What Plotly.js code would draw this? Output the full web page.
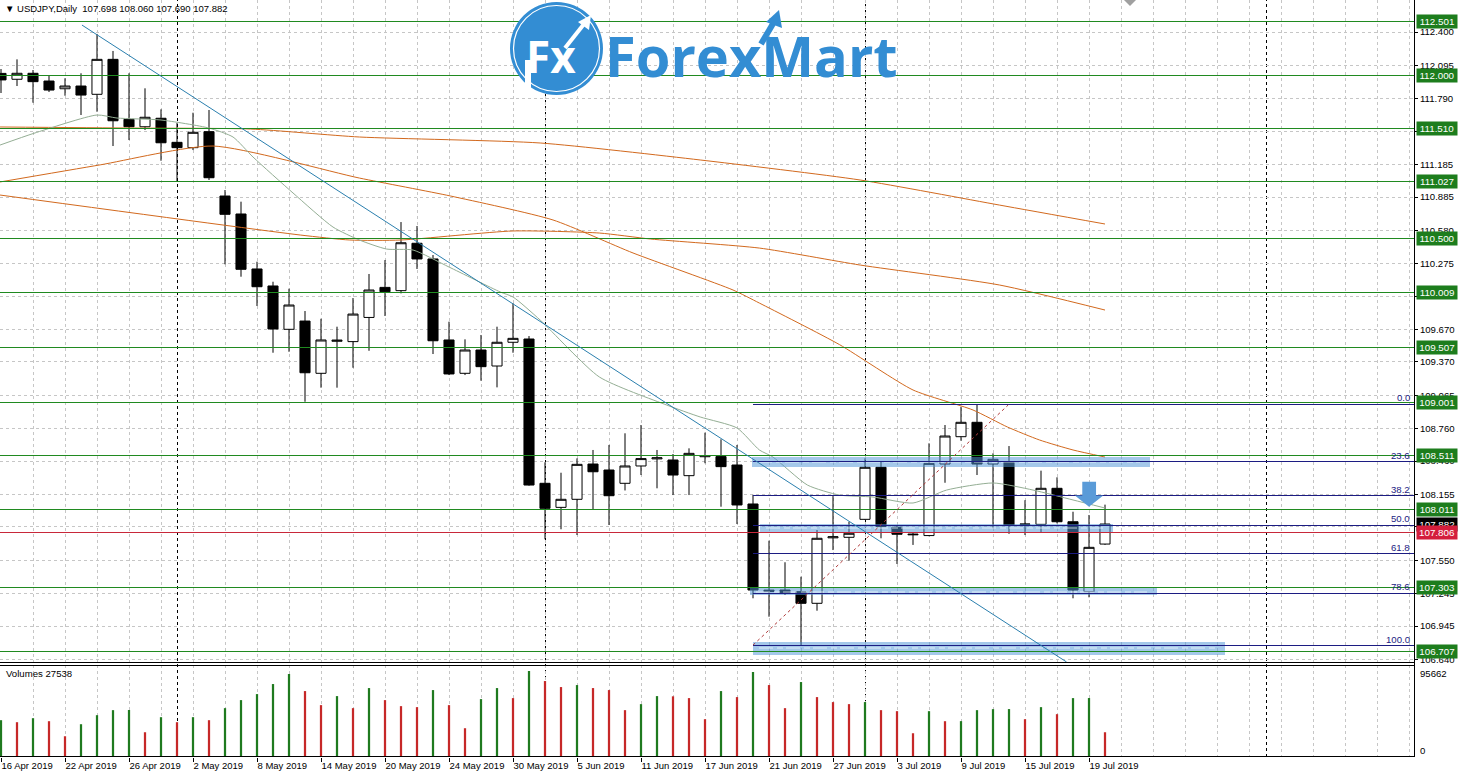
<!DOCTYPE html>
<html><head><meta charset="utf-8">
<script src="https://cdn.plot.ly/plotly-3.0.1.min.js"></script>
<style>html,body{margin:0;padding:0;background:#fff;overflow:hidden}#chart{width:1458px;height:774px}</style>
</head><body><div id="chart"></div>
<script>
// ---------------- DATA ----------------
const dates = ['2019-04-16','2019-04-17','2019-04-18','2019-04-19','2019-04-22','2019-04-23','2019-04-24','2019-04-25','2019-04-26','2019-04-29','2019-04-30',
'2019-05-01','2019-05-02','2019-05-03','2019-05-06','2019-05-07','2019-05-08','2019-05-09','2019-05-10','2019-05-13','2019-05-14','2019-05-15','2019-05-16','2019-05-17','2019-05-20','2019-05-21','2019-05-22','2019-05-23','2019-05-24','2019-05-27','2019-05-28','2019-05-29','2019-05-30','2019-05-31',
'2019-06-03','2019-06-04','2019-06-05','2019-06-06','2019-06-07','2019-06-10','2019-06-11','2019-06-12','2019-06-13','2019-06-14','2019-06-17','2019-06-18','2019-06-19','2019-06-20','2019-06-21','2019-06-24','2019-06-25','2019-06-26','2019-06-27','2019-06-28',
'2019-07-01','2019-07-02','2019-07-03','2019-07-04','2019-07-05','2019-07-08','2019-07-09','2019-07-10','2019-07-11','2019-07-12','2019-07-15','2019-07-16','2019-07-17','2019-07-18','2019-07-19','2019-07-22'];
const openP = [112.02,111.966,112.021,111.950,111.879,111.904,111.828,112.149,111.598,111.530,111.608,111.387,111.338,111.485,110.894,110.729,110.224,110.068,109.670,109.746,109.266,109.560,109.557,109.779,110.055,110.025,110.460,110.316,109.572,109.266,109.480,109.333,109.551,109.581,108.256,108.035,108.109,108.433,108.378,108.256,108.415,108.480,108.470,108.326,108.500,108.501,108.424,108.066,107.275,107.276,107.261,107.154,107.755,107.760,107.925,108.403,107.852,107.790,107.776,108.433,108.684,108.816,108.433,108.455,107.879,107.879,108.210,107.903,107.261,107.698];
const highP = [112.06,112.149,112.051,111.996,111.975,112.021,112.382,112.226,112.021,111.883,111.690,111.564,111.659,111.684,110.949,110.842,110.291,110.107,110.043,109.838,109.767,109.694,109.957,110.178,110.306,110.655,110.619,110.352,109.740,109.578,109.618,109.694,109.909,109.608,108.449,108.353,108.485,108.562,108.608,108.715,108.791,108.562,108.525,108.577,108.721,108.660,108.608,108.150,107.729,107.531,107.398,107.827,108.139,107.903,108.485,108.455,107.873,107.803,108.623,108.791,108.959,108.984,108.531,108.598,108.101,108.372,108.311,107.995,107.965,108.060];
const lowP = [111.84,111.904,111.751,111.849,111.815,111.638,111.668,111.353,111.408,111.500,111.218,111.025,111.316,111.041,110.267,110.153,109.884,109.455,109.464,109.005,109.134,109.134,109.317,109.473,109.792,110.000,110.224,109.443,109.250,109.250,109.198,109.137,109.455,108.234,107.742,107.834,107.781,108.011,107.873,108.190,108.332,108.210,108.148,108.148,108.440,108.041,107.882,107.200,107.031,107.230,106.762,107.086,107.643,107.545,107.920,107.751,107.515,107.690,107.770,108.261,108.647,108.332,107.843,107.792,107.781,107.803,107.888,107.200,107.209,107.690];
const closeP = [111.96,112.021,111.944,111.867,111.904,111.821,112.149,111.585,111.530,111.617,111.383,111.338,111.479,111.062,110.726,110.221,110.061,109.673,109.893,109.271,109.572,109.570,109.810,110.031,110.015,110.465,110.316,109.565,109.260,109.480,109.327,109.551,109.587,108.240,108.026,108.109,108.430,108.362,108.142,108.415,108.483,108.490,108.332,108.531,108.510,108.409,108.057,107.276,107.262,107.246,107.154,107.751,107.765,107.797,108.403,107.858,107.788,107.784,108.439,108.690,108.816,108.433,108.476,107.873,107.881,108.210,107.903,107.276,107.668,107.882];
const volume = [40944,38710,43177,39826,23077,36477,46527,52110,52300,27543,44293,38710,44300,40944,54343,63276,69975,81143,92308,73325,57692,67742,54343,76676,63276,56576,55459,74442,57692,32010,64393,76676,65508,95662,84493,77793,80025,76676,74442,52110,58810,67742,67500,65508,42060,73325,66627,94542,80025,54343,83376,66627,61043,58810,61100,52110,50992,26427,50992,39826,39900,52110,53225,53300,42060,55459,47642,65508,65600,27538];
const dateTickLabels = ['16 Apr 2019','22 Apr 2019','26 Apr 2019','2 May 2019','8 May 2019','14 May 2019','20 May 2019','24 May 2019','30 May 2019','5 Jun 2019','11 Jun 2019','17 Jun 2019','21 Jun 2019','27 Jun 2019','3 Jul 2019','9 Jul 2019','15 Jul 2019','19 Jul 2019'];
const dateTickDates = ['2019-04-16','2019-04-22','2019-04-26','2019-05-02','2019-05-08','2019-05-14','2019-05-20','2019-05-24','2019-05-30','2019-06-05','2019-06-11','2019-06-17','2019-06-21','2019-06-27','2019-07-03','2019-07-09','2019-07-15','2019-07-19'];
const priceTicks = [112.400,112.095,111.790,111.490,111.185,110.885,110.580,110.275,109.975,109.670,109.370,109.065,108.760,108.460,108.155,107.855,107.550,107.245,106.945,106.640];
const hiddenPriceTicks = [107.855];
const greenLevels = [112.501,112.000,111.510,111.027,110.500,110.009,109.507,109.001,108.511,108.011,107.303,106.707];
const redLevel = 107.806;
const bidPrice = 107.882;
const fibLevelPrices = [108.980,108.455,108.140,107.870,107.610,107.245,106.765];
const fibLevelLabels = ['0.0','23.6','38.2','50.0','61.8','78.6','100.0'];
// moving averages: [bar, price]
const maFast = [[-0.06,111.362],[2.06,111.47],[6,111.638],[7.25,111.610],[10,111.592],[13,111.518],[14.5,111.436],[15.75,111.252],[18.25,110.922],[20.75,110.609],[22.4,110.490],[24.1,110.407],[25.75,110.398],[28,110.242],[31.2,110.013],[32,109.967],[33.7,109.755],[37.4,109.232],[41.6,108.975],[43.7,108.865],[46,108.764],[47.4,108.562],[48.25,108.497],[50.4,108.240],[52.4,108.148],[54.5,108.130],[57,108.075],[59.1,108.194],[62,108.259],[64.5,108.194],[67,108.103],[69,108.029]];
const ma50 = [[-0.06,111.023],[6.2,111.18],[13.25,111.353],[22.4,111.059],[28.1,110.894],[34.5,110.674],[39.5,110.371],[45.75,110.031],[47.4,109.911],[52.4,109.53],[57,109.113],[60.75,108.929],[62.9,108.773],[64.9,108.654],[67,108.562],[69,108.497]];
const ma100 = [[-0.06,111.528],[8.25,111.518],[15.6,111.509],[22.4,111.436],[33.7,111.381],[43.7,111.225],[53.7,111.041],[62.4,110.811],[69,110.637]];
const ma200 = [[-0.06,110.903],[18.7,110.536],[21.8,110.490],[25,110.49],[32,110.573],[37.4,110.554],[40.6,110.499],[47.4,110.416],[53.7,110.260],[62.4,110.077],[69,109.847]];
const trendLine = {x0:5.06, y0:112.464, x1:66.6, y1:106.615};
const fibDiagonal = {x0:47, y0:106.77, x1:62.95, y1:108.975};
const fibStartBar = 47;
const zones = [[46.92,71.81,108.408,108.500],[47.44,69.5,107.811,107.882],[46.81,72.25,107.230,107.294],[47.0,76.5,106.679,106.801]];
const futureSeparator = 79.1;
const header = '\u25BC USDJPY,Daily  107.698 108.060 107.690 107.882';
const volumeTitle = 'Volumes 27538';
const volumeMaxLabel = '95662';

// ---------------- GEOMETRY ----------------
const W = 1458, H = 774, PW = 1414, PH = 757;
const px = x => x / PW;
const py = y => (PH - y) / PH;
const xs = dates.map((d, i) => i);
const XR = [-0.0625, 88.3125];
const YR = [106.615, 112.694];
const V2R = [0, 102335];

const GREEN = '#208a20', RED = '#c8283a', NAVY = '#1c1c82', GRID = '#c6c6c6';

const tickvals = dateTickDates.map(d => dates.indexOf(d));
const volColors = volume.map((v, i) => (i === 0 || v > volume[i - 1]) ? '#1f7a1f' : '#c62828');
const monthSeps = [];
for (let i = 1; i < dates.length; i++) if (dates[i].slice(5, 7) !== dates[i - 1].slice(5, 7)) monthSeps.push(i);
monthSeps.push(futureSeparator);

const traces = [];
traces.push({type:'candlestick', x:xs, open:openP, high:highP, low:lowP, close:closeP, xaxis:'x', yaxis:'y',
  increasing:{line:{color:'#000', width:1}, fillcolor:'#ffffff'},
  decreasing:{line:{color:'#000', width:1}, fillcolor:'#000000'},
  whiskerwidth:0, hoverinfo:'skip', showlegend:false});
function maTrace(arr, color) {
  return {type:'scatter', mode:'lines', x:arr.map(p => p[0]), y:arr.map(p => p[1]), xaxis:'x', yaxis:'y',
    line:{color:color, width:1, shape:'spline', smoothing:0.6}, hoverinfo:'skip', showlegend:false};
}
traces.push(maTrace(ma100, '#d2691e'));
traces.push(maTrace(ma200, '#d2691e'));
traces.push(maTrace(ma50, '#d2691e'));
traces.push(maTrace(maFast, '#94ae94'));
traces.push({type:'bar', x:xs, y:volume, xaxis:'x', yaxis:'y2', marker:{color:volColors, line:{width:0}},
  width:0.14, hoverinfo:'skip', showlegend:false});

const shapes = [];
const crisp = [];
function addShape(s, isCrisp) { if (isCrisp) crisp.push(shapes.length); shapes.push(s); }
monthSeps.forEach(m => addShape({type:'line', xref:'x', yref:'paper', x0:m, x1:m, y0:0, y1:1,
  line:{color:'#000', width:1, dash:'3px,3px'}, layer:'below'}, true));
zones.forEach(z => {
  addShape({type:'rect', xref:'x', yref:'y', x0:z[0], x1:z[1], y0:z[2], y1:z[3],
    fillcolor:'rgba(80,150,215,0.52)', line:{width:0}, layer:'above'}, true);
  addShape({type:'line', xref:'x', yref:'y', x0:z[0] + 0.4, x1:z[1] - 0.6, y0:(z[2] + z[3]) / 2, y1:(z[2] + z[3]) / 2,
    line:{color:'rgba(255,255,255,0.35)', width:2, dash:'14px,4px,6px,3px'}, layer:'above'}, true);
});
greenLevels.forEach(l => addShape({type:'line', xref:'paper', yref:'y', x0:0, x1:1, y0:l, y1:l,
  line:{color:GREEN, width:1}, layer:'above'}, true));
addShape({type:'line', xref:'paper', yref:'y', x0:0, x1:1, y0:redLevel, y1:redLevel, line:{color:RED, width:1}, layer:'above'}, true);
fibLevelPrices.forEach(l => addShape({type:'line', xref:'x', yref:'y', x0:fibStartBar, x1:XR[1], y0:l, y1:l,
  line:{color:NAVY, width:1}, layer:'above'}, true));
addShape({type:'line', xref:'x', yref:'y', x0:fibDiagonal.x0, y0:fibDiagonal.y0, x1:fibDiagonal.x1, y1:fibDiagonal.y1,
  line:{color:'#b03a3a', width:1, dash:'3px,3px'}, layer:'above'}, false);
addShape({type:'line', xref:'x', yref:'y', x0:trendLine.x0, y0:trendLine.y0, x1:trendLine.x1, y1:trendLine.y1,
  line:{color:'#2a7fae', width:1}, layer:'above'}, false);
addShape({type:'path', xref:'x', yref:'y', layer:'above', fillcolor:'#5a9bd8', line:{width:0},
  path:'M 67.58,108.271 L 68.44,108.271 L 68.44,108.145 L 68.89,108.145 L 68.0,108.041 L 67.12,108.145 L 67.58,108.145 Z'}, false);
addShape({type:'line', xref:'paper', yref:'paper', x0:1, x1:1, y0:0, y1:1, line:{color:'#000', width:1}, layer:'above'}, true);
addShape({type:'line', xref:'paper', yref:'paper', x0:0, x1:1, y0:py(662), y1:py(662), line:{color:'#000', width:1}, layer:'above'}, true);
addShape({type:'line', xref:'paper', yref:'paper', x0:0, x1:1, y0:py(665), y1:py(665), line:{color:'#000', width:1}, layer:'above'}, true);
addShape({type:'line', xref:'paper', yref:'paper', x0:0, x1:1, y0:py(756.5), y1:py(756.5), line:{color:'#000', width:1}, layer:'above'}, true);
addShape({type:'path', xref:'paper', yref:'paper', layer:'above', fillcolor:'#a0a0a0', line:{width:0},
  path:`M ${px(1124)},${py(0)} L ${px(1136)},${py(0)} L ${px(1130)},${py(6)} Z`}, false);
// logo
addShape({type:'circle', xref:'paper', yref:'paper', x0:px(510), x1:px(603), y0:py(95), y1:py(2), fillcolor:'#338dd3', line:{width:0}, layer:'above'}, false);
addShape({type:'circle', xref:'paper', yref:'paper', x0:px(513.5), x1:px(599.5), y0:py(91.5), y1:py(5.5), line:{color:'#ffffff', width:1.2}, layer:'above'}, false);
addShape({type:'line', xref:'paper', yref:'paper', x0:px(528), x1:px(528), y0:py(92), y1:py(60), line:{color:'#ffffff', width:6}, layer:'above'}, false);
addShape({type:'line', xref:'paper', yref:'paper', x0:px(565), x1:px(584), y0:py(48), y1:py(24), line:{color:'#ffffff', width:4}, layer:'above'}, false);
addShape({type:'path', xref:'paper', yref:'paper', layer:'above', fillcolor:'#ffffff', line:{width:0},
  path:`M ${px(578)},${py(22)} L ${px(591)},${py(15)} L ${px(589)},${py(30)} Z`}, false);
addShape({type:'line', xref:'paper', yref:'paper', x0:px(761), x1:px(774), y0:py(44), y1:py(22), line:{color:'#338dd3', width:6}, layer:'above'}, false);
addShape({type:'path', xref:'paper', yref:'paper', layer:'above', fillcolor:'#338dd3', line:{width:0},
  path:`M ${px(766)},${py(22)} L ${px(779)},${py(10)} L ${px(782)},${py(28)} Z`}, false);

const annotations = [];
const FONT = 'Liberation Sans, Arial, sans-serif';
annotations.push({xref:'paper', yref:'paper', x:0, y:1, xanchor:'left', yanchor:'top', xshift:3, yshift:-1, showarrow:false,
  text:header, font:{family:FONT, size:9.5, color:'#000'}});
annotations.push({xref:'paper', yref:'paper', x:0, y:py(673), xanchor:'left', yanchor:'middle', xshift:4, showarrow:false,
  text:volumeTitle, font:{family:FONT, size:9.6, color:'#000'}});
annotations.push({xref:'paper', yref:'paper', x:1, y:py(673), xanchor:'left', yanchor:'middle', xshift:4, showarrow:false,
  text:volumeMaxLabel, font:{family:FONT, size:9.6, color:'#000'}});
annotations.push({xref:'paper', yref:'paper', x:1, y:py(750), xanchor:'left', yanchor:'middle', xshift:4, showarrow:false,
  text:'0', font:{family:FONT, size:9.6, color:'#000'}});
function boxLabel(price, txt, bg) {
  return {xref:'paper', yref:'y', x:1, y:price, xanchor:'left', yanchor:'middle', xshift:2, showarrow:false,
    text:txt, bgcolor:bg, borderpad:1, width:38, height:11, align:'center',
    font:{family:FONT, size:9.8, color:'#ffffff'}};
}
greenLevels.forEach(l => annotations.push(boxLabel(l, l.toFixed(3), '#1d7d1d')));
annotations.push(boxLabel(bidPrice, bidPrice.toFixed(3), '#000000'));
annotations.push(boxLabel(redLevel, redLevel.toFixed(3), '#d41e3c'));
fibLevelPrices.forEach((l, k) => annotations.push({xref:'paper', yref:'y', x:1, y:l, xanchor:'right', yanchor:'bottom',
  xshift:-2, yshift:-1, showarrow:false, text:fibLevelLabels[k], font:{family:FONT, size:9.6, color:NAVY}}));
annotations.push({xref:'paper', yref:'paper', x:px(551), y:py(56), xanchor:'center', yanchor:'middle', showarrow:false,
  text:'<b>Fx</b>', font:{family:'Open Sans, sans-serif', size:44, color:'#ffffff'}});
annotations.push({xref:'paper', yref:'paper', x:px(751), y:py(55), xanchor:'center', yanchor:'middle', showarrow:false,
  text:'<b>ForexMart</b>', font:{family:'Open Sans, sans-serif', size:56, color:'#338dd3'}});

const layout = {
  width:W, height:H, margin:{l:0, r:44, t:0, b:17, pad:0},
  paper_bgcolor:'#ffffff', plot_bgcolor:'#ffffff', showlegend:false,
  boxgap:0.1, boxgroupgap:0.3,
  xaxis:{type:'linear', range:XR, anchor:'y2', domain:[0,1], fixedrange:true,
    tickvals:tickvals, ticktext:dateTickLabels, ticks:'outside', ticklen:4, tickcolor:'#000',
    ticklabelposition:'outside right', tickfont:{family:FONT, size:9.5, color:'#000'},
    showgrid:true, gridcolor:GRID, griddash:'3px,3px', gridwidth:1,
    minor:{tick0:0, dtick:2, showgrid:true, gridcolor:GRID, griddash:'3px,3px', ticks:''},
    zeroline:false, showline:false, rangeslider:{visible:false}},
  yaxis:{range:YR, domain:[py(662), 1], side:'right', anchor:'x', fixedrange:true,
    tickvals:priceTicks, ticktext:priceTicks.map(v => hiddenPriceTicks.includes(v) ? '' : v.toFixed(3)),
    ticks:'outside', ticklen:3, tickcolor:'#000',
    tickfont:{family:FONT, size:9.6, color:'#000'},
    showgrid:true, gridcolor:GRID, griddash:'3px,3px', zeroline:false, showline:false},
  yaxis2:{range:V2R, domain:[0, py(665)], side:'right', anchor:'x', fixedrange:true,
    showticklabels:false, ticks:'', showgrid:false, zeroline:false, showline:false},
  shapes:shapes, annotations:annotations
};
Plotly.newPlot('chart', traces, layout, {displayModeBar:false, staticPlot:true}).then(() => {
  const set = new Set(crisp);
  document.querySelectorAll('.shapelayer path').forEach(p => {
    const idx = +p.getAttribute('data-index');
    if (set.has(idx)) p.style.shapeRendering = 'crispEdges';
  });
});
</script></body></html>
